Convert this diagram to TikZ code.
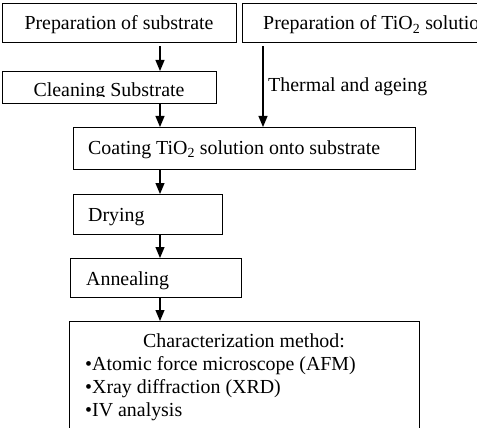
\documentclass[tikz,border=0pt]{standalone}
\usepackage{fontspec}
\setmainfont{Liberation Serif}
\usetikzlibrary{arrows.meta}
\begin{document}
\begin{tikzpicture}[x=1pt,y=-1pt,
  box/.style={draw,line width=1.2pt,rectangle,inner sep=0pt,anchor=north west},
  lbl/.style={inner sep=0pt,font=\fontsize{19.9}{23}\selectfont},
  arr/.style={line width=1.2pt,-{Triangle[length=11pt,width=9pt]}}]
\useasboundingbox (0,0) rectangle (477,428);
\clip (0,0) rectangle (477,428);
% boxes
\node[box,minimum width=234pt,minimum height=39pt] (prep) at (2,3) {};
\node[box,minimum width=270pt,minimum height=39pt] (prept) at (242,3) {};
\node[box,minimum width=214pt,minimum height=32pt] (clean) at (2,71) {};
\node[box,minimum width=342pt,minimum height=42pt] (coat) at (73,127) {};
\node[box,minimum width=149pt,minimum height=40pt] (dry) at (73,194) {};
\node[box,minimum width=171pt,minimum height=39pt] (anneal) at (70,258) {};
\node[box,minimum width=350pt,minimum height=140pt] (char) at (69,321) {};
% texts
\node[lbl,anchor=base] (t1) at (119,30) {Preparation of substrate};
\node[lbl,anchor=base west] (t2) at (263,30) {Preparation of TiO\textsubscript{2} solution};
\begin{scope}
  \clip (2,71) rectangle (216,96.5);
  \node[lbl,anchor=base] (t3) at (109,97) {Cleaning Substrate};
\end{scope}
\node[lbl,anchor=base west] (tha) at (268,92) {Thermal and ageing};
\node[lbl,anchor=base west] (t4) at (88,154) {Coating TiO\textsubscript{2} solution onto substrate};
\node[lbl,anchor=base west] (t5) at (88,221) {Drying};
\node[lbl,anchor=base west] (t6) at (86,285) {Annealing};
\node[lbl,anchor=base] (t7) at (244,347) {Characterization method:};
\node[lbl,anchor=base west] (t8) at (85,370) {•Atomic force microscope (AFM)};
\node[lbl,anchor=base west] (t9) at (85,393) {•Xray diffraction (XRD)};
\node[lbl,anchor=base west] (t10) at (85,416) {•IV analysis};
% connectors
\coordinate (spine) at (160,0);
\coordinate (tcol) at (263,0);
\draw[arr] ([yshift=-3pt]spine |- prep.south) -- (spine |- clean.north);
\draw[arr] (spine |- clean.south) -- (spine |- coat.north);
\draw[arr] ([yshift=-3pt]tcol |- prept.south) -- (tcol |- coat.north);
\draw[arr] (spine |- coat.south) -- (spine |- dry.north);
\draw[arr] (spine |- dry.south) -- (spine |- anneal.north);
\draw[arr] (spine |- anneal.south) -- (spine |- char.north);
\end{tikzpicture}
\end{document}
